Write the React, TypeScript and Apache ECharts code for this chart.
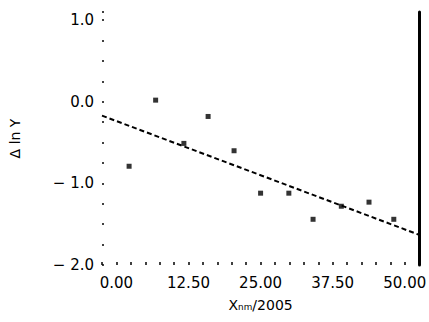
import React, { useEffect, useRef } from "react";
import * as echarts from "echarts";

const pointsX = [2.2, 6.8, 11.7, 15.9, 20.4, 25.0, 29.9, 34.1, 39.0, 43.8, 48.1];
const pointsY = [-0.79, 0.02, -0.51, -0.18, -0.6, -1.12, -1.12, -1.44, -1.28, -1.23, -1.44];
const trendX = [-2.5, 52.5];
const trendY = [-0.17, -1.63];
const xTickLabels = [0, 12.5, 25, 37.5, 50];
const yTickLabels = [1, 0, -1, -2];

export default function App() {
  const ref = useRef<HTMLDivElement>(null);
  useEffect(() => {
    if (!ref.current) return;
    const chart = echarts.init(ref.current, undefined, { renderer: "svg" });
    const font = "DejaVu Sans";
    chart.setOption({
      animation: false,
      backgroundColor: "#ffffff",
      grid: { left: 97, right: 4, top: 12, bottom: 57 },
      xAxis: {
        type: "value",
        min: -2.5,
        max: 52.5,
        interval: 2.5,
        name: "Xₙₘ/2005",
        nameLocation: "middle",
        nameGap: 33,
        nameTextStyle: { color: "#000", fontSize: 14, fontFamily: font },
        axisLine: { show: false, onZero: false },
        splitLine: { show: false },
        axisTick: { show: true, inside: true, length: 3, lineStyle: { color: "#000", width: 1.5 } },
        axisLabel: {
          customValues: xTickLabels,
          formatter: (v: number) => v.toFixed(2),
          color: "#000",
          fontSize: 15,
          fontFamily: font,
          margin: 10,
        },
      },
      yAxis: [
        {
          type: "value",
          min: -2,
          max: 1.1,
          interval: 0.25,
          name: "Δ ln Y",
          nameLocation: "middle",
          nameGap: 80,
          nameTextStyle: { color: "#000", fontSize: 14, fontFamily: font },
          axisLine: { show: false, onZero: false },
          splitLine: { show: false },
          axisTick: { show: true, inside: true, length: 2, lineStyle: { color: "#000", width: 1.5 } },
          axisLabel: {
            customValues: yTickLabels,
            formatter: (v: number) => (v < 0 ? "− " + Math.abs(v).toFixed(1) : v.toFixed(1)),
            color: "#000",
            fontSize: 15,
            fontFamily: font,
            margin: 8,
          },
        },
        {
          type: "value",
          position: "right",
          min: -2,
          max: 1.1,
          axisLine: { show: true, onZero: false, lineStyle: { color: "#000", width: 3 } },
          axisTick: { show: false },
          axisLabel: { show: false },
          splitLine: { show: false },
        },
      ],
      series: [
        {
          type: "line",
          data: trendX.map((x, i) => [x, trendY[i]]),
          showSymbol: false,
          symbol: "none",
          lineStyle: { color: "#000", width: 2, type: [5, 3] },
          xAxisIndex: 0,
          yAxisIndex: 0,
        },
        {
          type: "scatter",
          data: pointsX.map((x, i) => [x, pointsY[i]]),
          symbol: "rect",
          symbolSize: 5,
          itemStyle: { color: "#000" },
          xAxisIndex: 0,
          yAxisIndex: 0,
        },
      ],
    });
    return () => chart.dispose();
  }, []);
  return <div ref={ref} style={{ width: 429, height: 322, position: "absolute", left: 0, top: 0 }} />;
}
